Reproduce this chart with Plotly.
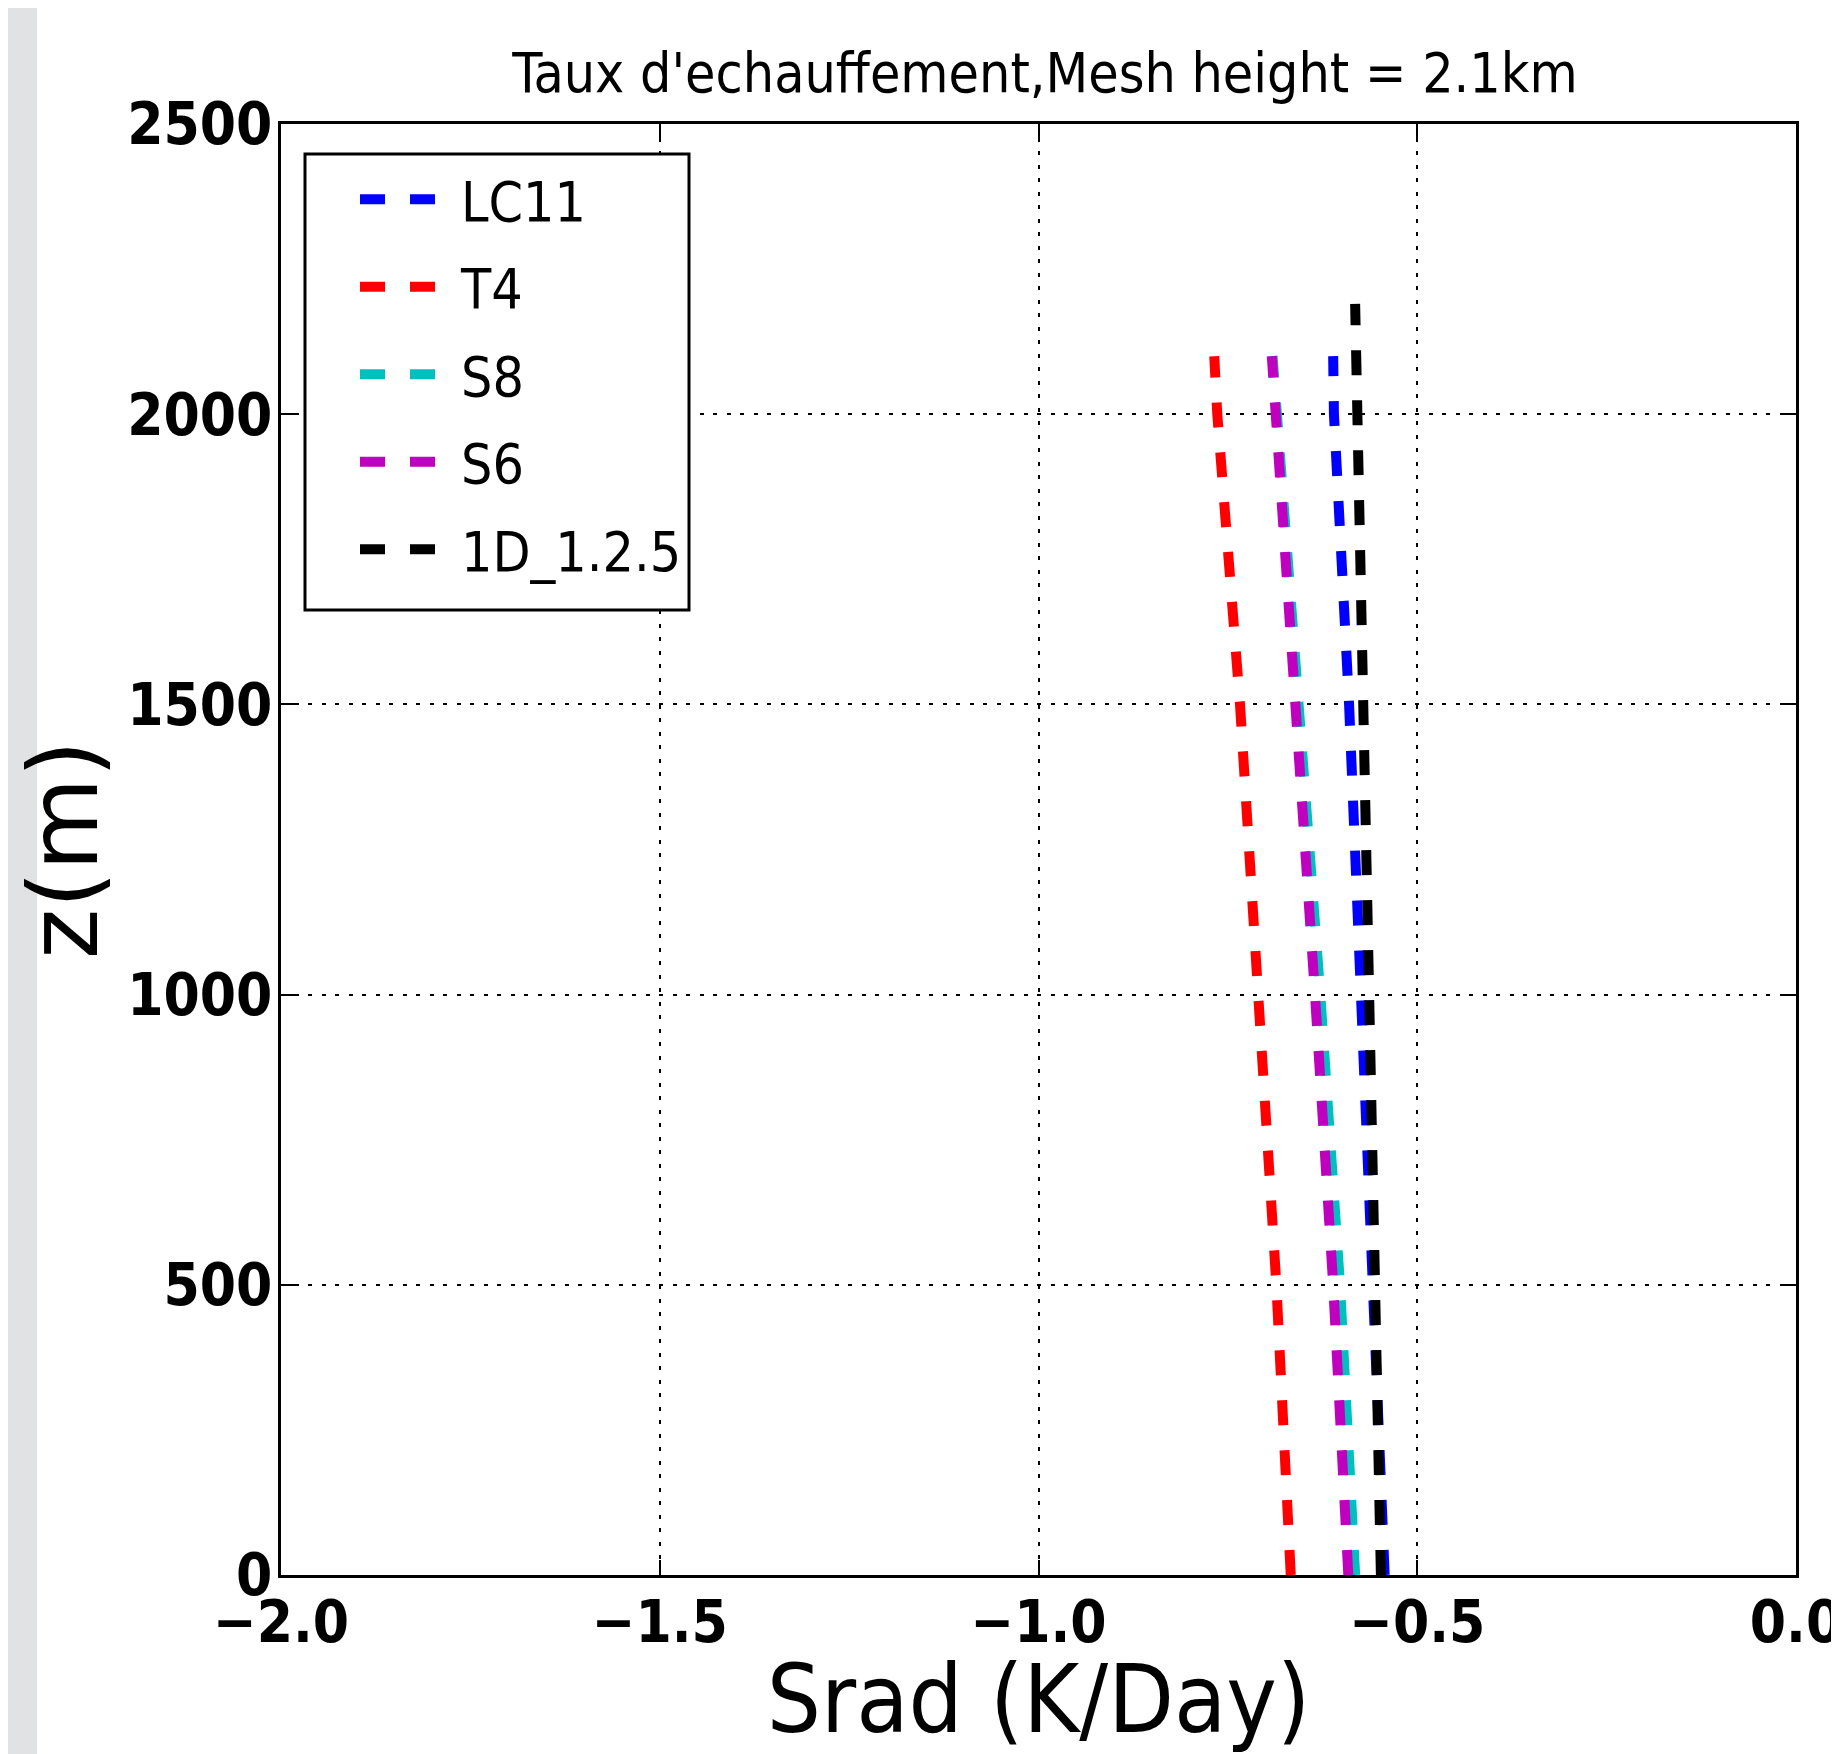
import plotly.graph_objects as go

# ---- data ----
z_les = [0, 500, 1000, 1500, 2000, 2100]
lc11 = [-0.543, -0.558, -0.574, -0.590, -0.610, -0.611]
t4 = [-0.667, -0.686, -0.710, -0.734, -0.764, -0.768]
s8 = [-0.582, -0.602, -0.628, -0.656, -0.686, -0.691]
s6 = [-0.591, -0.611, -0.635, -0.660, -0.688, -0.692]
z_1d = [0, 500, 1000, 1500, 2000, 2190]
d1 = [-0.548, -0.556, -0.562, -0.570, -0.580, -0.582]

x_ticks = [-2.0, -1.5, -1.0, -0.5, 0.0]
y_ticks = [0, 500, 1000, 1500, 2000, 2500]

series = [
    ("LC11", lc11, z_les, "#0000ff"),
    ("T4", t4, z_les, "#ff0000"),
    ("S8", s8, z_les, "#00bfbf"),
    ("S6", s6, z_les, "#bf00bf"),
    ("1D_1.2.5", d1, z_1d, "#000000"),
]

COND = "DejaVu Sans Condensed, Liberation Sans Narrow, DejaVu Sans, sans-serif"
NORM = "DejaVu Sans, sans-serif"

fig = go.Figure()
for i, (name, xs, zs, col) in enumerate(series):
    fig.add_trace(go.Scatter(
        x=xs, y=zs, mode="lines", name=name, legendgroup=f"g{i}",
        line=dict(color=col, width=10, dash="25px,25px"),
    ))

# page body has an 8px margin, so the figure is offset by 8px
OFF = 8
W, H = 1839 - OFF, 1754 - OFF
L, R, T, B = 281 - OFF, 43, 124 - OFF, 179
pw = W - L - R
ph = H - T - B


def px_x(p):  # page x (reference pixels) -> paper fraction
    return (p - 281) / pw


def px_y(p):  # page y (reference pixels) -> paper fraction
    return 1 - (p - 124) / ph


fig.update_layout(
    width=W, height=H,
    margin=dict(l=L, r=R, t=T, b=B, pad=0, autoexpand=False),
    paper_bgcolor="white", plot_bgcolor="white",
    title=dict(text="Taux d'echauffement,Mesh height = 2.1km",
               font=dict(family=COND, size=55, color="black"),
               x=px_x(1045), xref="paper", xanchor="center",
               y=1 - (73 - OFF) / H, yref="container", yanchor="middle"),
    legend=dict(x=px_x(355), y=px_y(157),
                xanchor="left", yanchor="top",
                bgcolor="rgba(0,0,0,0)", borderwidth=0,
                font=dict(family=COND, size=55, color="black"),
                itemwidth=96, tracegroupgap=13),
    xaxis=dict(range=[-2.0, 0.0], tickvals=x_ticks, tickformat=".1f",
               automargin=False,
               showline=True, linecolor="black", linewidth=3, mirror="ticks",
               ticks="inside", ticklen=15, tickwidth=2, tickcolor="black",
               showgrid=True, gridcolor="black", gridwidth=2, griddash="4px,9.5px",
               zeroline=False, ticklabeloverflow="allow", ticklabelstandoff=-6,
               tickfont=dict(family=COND, size=58, color="black", weight="bold"),
               title=dict(text="Srad (K/Day)",
                          font=dict(family=COND, size=95, color="black"))),
    yaxis=dict(range=[0, 2500], tickvals=y_ticks, tickformat="d",
               automargin=True,
               showline=True, linecolor="black", linewidth=3, mirror="ticks",
               ticks="inside", ticklen=15, tickwidth=2, tickcolor="black",
               showgrid=True, gridcolor="black", gridwidth=2, griddash="4px,9.5px",
               zeroline=False, ticklabeloverflow="allow", ticklabelstandoff=-6,
               tickfont=dict(family=COND, size=58, color="black", weight="bold"),
               title=dict(text="z(m)", standoff=0,
                          font=dict(family=NORM, size=96, color="black"))),
    shapes=[
        # grey strip at the left edge of the image
        dict(type="rect", xref="paper", yref="paper",
             x0=-L / pw, x1=px_x(37), y0=-B / ph, y1=1 + T / ph,
             fillcolor="#e1e2e4", line=dict(width=0), layer="below"),
        # legend frame
        dict(type="rect", xref="paper", yref="paper",
             x0=px_x(305), x1=px_x(689), y0=px_y(610), y1=px_y(154),
             fillcolor="white", line=dict(color="black", width=3), layer="above"),
    ],
)

fig.write_html("out.html")
